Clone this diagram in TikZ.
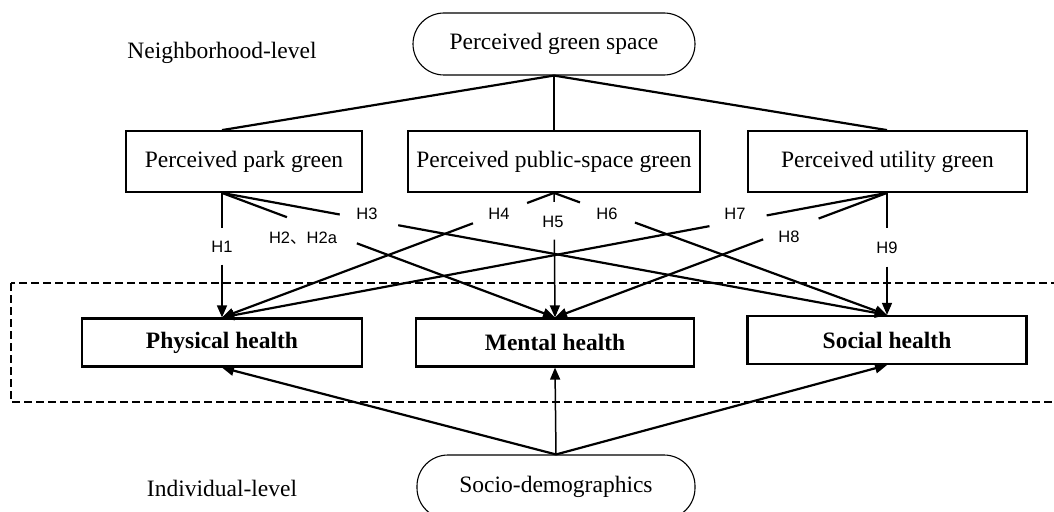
\documentclass[tikz,border=0pt]{standalone}
\usepackage{fontspec}
\setmainfont{Liberation Serif}
\newfontfamily\labfont{Liberation Sans}
\newfontfamily\cjk{Noto Sans CJK SC}
\usetikzlibrary{positioning, arrows.meta, calc}

\begin{document}
\begin{tikzpicture}[x=1pt, y=-1pt,
  every node/.style={font=\fontsize{23.5}{28}\selectfont},
  oval/.style={draw, line width=1.1pt, rounded corners=31pt, minimum width=282pt, minimum height=62pt, inner sep=0pt},
  greenbox/.style={draw, line width=1.8pt, minimum height=61pt, inner sep=0pt},
  healthbox/.style={draw, line width=2.2pt, minimum height=48pt, inner sep=0pt, font=\fontsize{23.5}{28}\selectfont\bfseries},
  hyp/.style={font=\labfont\fontsize{16.5}{19}\selectfont, inner sep=1pt},
  link/.style={line width=2.2pt},
  arr/.style={line width=2.2pt, -{Triangle[length=12pt, width=10pt]}},
  thinarr/.style={line width=1.5pt, -{Triangle[length=12pt, width=10pt]}}]

\path[use as bounding box, clip] (0,0) rectangle (1054,511);

% --- Neighborhood level ---
\node[oval] (gs) at (554,44) {Perceived green space};
\node (nl) at (222,53) {Neighborhood-level};

% --- Green space types ---
\node[greenbox, minimum width=236pt] (pk) at (244,161.5) {Perceived park green};
\node[greenbox, minimum width=292pt] (ps) at (554,161.5) {Perceived public-space green};
\node[greenbox, minimum width=279pt] (ut) at (887.5,161.5) {Perceived utility green};

% --- Health outcomes ---
\node[healthbox, minimum width=280pt] (ph) at (222,342.5) {Physical health};
\node[healthbox, minimum width=278pt] (mh) at (555,342.5) {Mental health};
\node[healthbox, minimum width=279pt] (sh) at (887,340) {Social health};

% --- Individual level ---
\node[oval, minimum width=278pt, minimum height=64pt] (sd) at (556,487) {Socio-demographics};
\node (il) at (222,488) {Individual-level};

% dashed frame round the outcomes
\draw[line width=1.8pt, dash pattern=on 8pt off 4pt] (11,283) rectangle (1070,402);

% --- Anchor points on the boxes ---
\coordinate (pkt) at (pk.north -| ph.north);
\coordinate (pkb) at (pk.south -| ph.north);
\coordinate (psb) at (ps.south);
\coordinate (utt) at (ut.north -| sh.north);
\coordinate (utb) at (ut.south -| sh.north);

% --- Green space split ---
\draw[link] (gs.south) -- (pkt);
\draw[link] (gs.south) -- (ps.north);
\draw[link] (gs.south) -- (utt);

% --- Hypothesis labels ---
\node[hyp] (h1) at (222,247) {H1};
\node[hyp] (h2) at (303,238) {H2{\cjk 、}H2a};
\node[hyp] (h3) at (367,214) {H3};
\node[hyp] (h4) at (499,214) {H4};
\node[hyp] (h5) at (553,222) {H5};
\node[hyp] (h6) at (607,214) {H6};
\node[hyp] (h7) at (735,214) {H7};
\node[hyp] (h8) at (789,237) {H8};
\node[hyp] (h9) at (887,248) {H9};

% --- Paths from park green (broken at the labels) ---
\draw[link, line width=1.5pt] (pkb) -- ($(pkb)!0.28!(ph.north)$);
\draw[thinarr] ($(pkb)!0.576!(ph.north)$) -- (ph.north);
\draw[link] (pkb) -- ($(pkb)!0.195!(mh.north)$);
\draw[arr] ($(pkb)!0.405!(mh.north)$) -- (mh.north);
\draw[link] (pkb) -- ($(pkb)!0.177!(sh.north)$);
\draw[arr] ($(pkb)!0.265!(sh.north)$) -- (sh.north);

% --- Paths from public-space green ---
\draw[link] (psb) -- ($(psb)!0.081!(ph.north)$);
\draw[arr] ($(psb)!0.244!(ph.north)$) -- (ph.north);
\draw[link, line width=1.5pt] (psb) -- ($(psb)!0.072!(mh.north)$);
\draw[thinarr] ($(psb)!0.376!(mh.north)$) -- (mh.north);
\draw[link] (psb) -- ($(psb)!0.078!(sh.north)$);
\draw[arr] ($(psb)!0.243!(sh.north)$) -- (sh.north);

% --- Paths from utility green ---
\draw[link] (utb) -- ($(utb)!0.181!(ph.north)$);
\draw[arr] ($(utb)!0.267!(ph.north)$) -- (ph.north);
\draw[link] (utb) -- ($(utb)!0.206!(mh.north)$);
\draw[arr] ($(utb)!0.373!(mh.north)$) -- (mh.north);
\draw[link, line width=1.5pt] (utb) -- ($(utb)!0.29!(sh.north)$);
\draw[thinarr] ($(utb)!0.605!(sh.north)$) -- (sh.north);

% --- Socio-demographic controls ---
\draw[arr] (sd.north) -- (ph.south);
\draw[thinarr] (sd.north) -- (mh.south);
\draw[arr] (sd.north) -- (sh.south);

\end{tikzpicture}
\end{document}
